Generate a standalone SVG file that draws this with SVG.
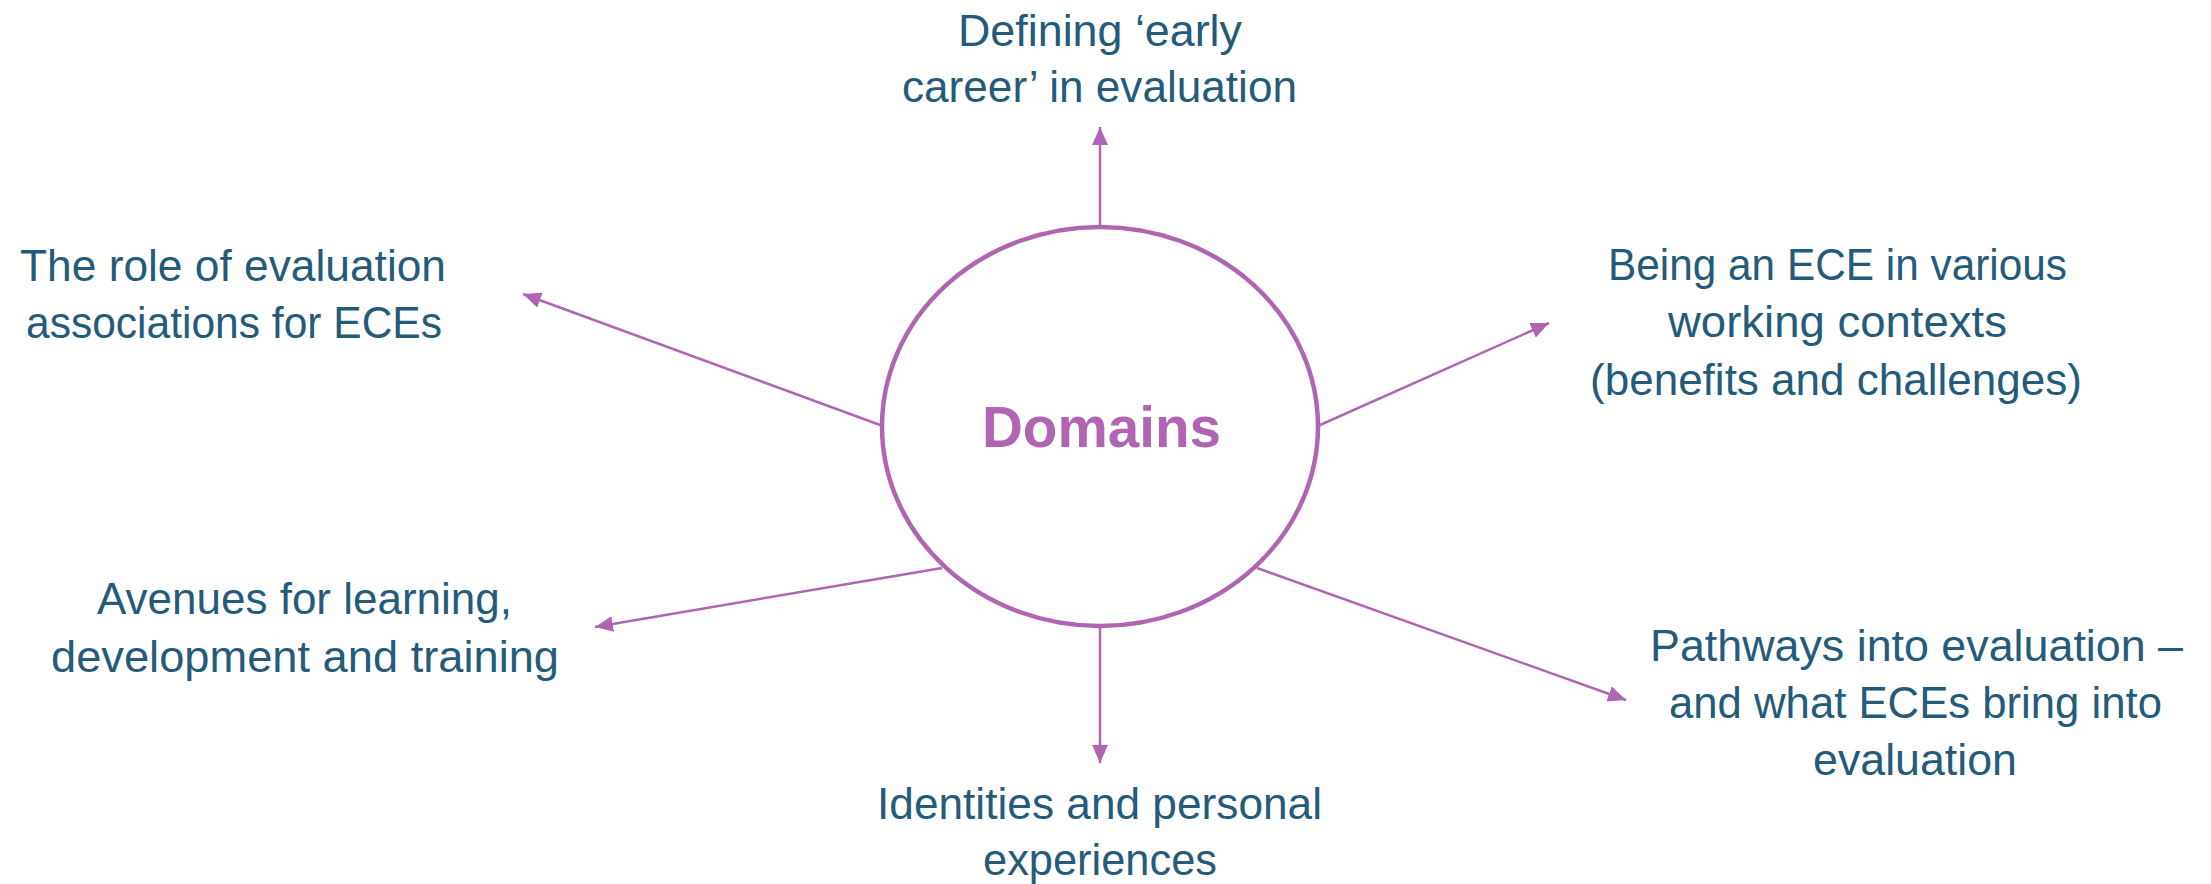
<svg xmlns="http://www.w3.org/2000/svg" width="2211" height="884" viewBox="0 0 2211 884">
  <style>
    .lbl { font-family: "Liberation Sans", Arial, sans-serif; font-size: 44px; fill: #255B7A; text-anchor: middle; }
    .hub { fill: #FFFFFF; stroke: #B065B3; stroke-width: 4.5; }
    .hub-txt { font-family: "Liberation Sans", Arial, sans-serif; font-size: 57px; font-weight: bold; fill: #B065B3; text-anchor: middle; }
    .link { stroke: #B065B3; stroke-width: 2.5; fill: none; marker-end: url(#tip); }
  </style>
  <defs>
    <marker id="tip" markerUnits="userSpaceOnUse" markerWidth="18" markerHeight="16" viewBox="0 0 17 15" refX="17" refY="7.5" orient="auto">
      <path d="M0,0 L17,7.5 L0,15 Z" fill="#B065B3"/>
    </marker>
  </defs>
  <rect width="2211" height="884" fill="#FFFFFF"/>

  <!-- spokes from the central ellipse out to each domain -->
  <g id="connectors">
    <line class="link" x1="1100" y1="225" x2="1100" y2="127"/>
    <line class="link" x1="880" y1="425" x2="523" y2="294"/>
    <line class="link" x1="1320" y1="425" x2="1549" y2="323"/>
    <line class="link" x1="942" y1="568" x2="595" y2="627"/>
    <line class="link" x1="1257" y1="568" x2="1626" y2="700"/>
    <line class="link" x1="1100" y1="628" x2="1100" y2="763"/>
  </g>

  <g id="hub">
    <ellipse class="hub" cx="1100" cy="426.5" rx="218" ry="199.5"/>
    <text class="hub-txt" x="1101.5" y="447" textLength="239" lengthAdjust="spacingAndGlyphs">Domains</text>
  </g>

  <g id="node-defining">
    <text class="lbl" x="1100" y="46" textLength="284" lengthAdjust="spacingAndGlyphs">Defining ‘early</text>
    <text class="lbl" x="1099.5" y="102" textLength="395" lengthAdjust="spacingAndGlyphs">career’ in evaluation</text>
  </g>

  <g id="node-associations">
    <text class="lbl" x="233" y="281" textLength="426" lengthAdjust="spacingAndGlyphs">The role of evaluation</text>
    <text class="lbl" x="234" y="338" textLength="416" lengthAdjust="spacingAndGlyphs">associations for ECEs</text>
  </g>

  <g id="node-contexts">
    <text class="lbl" x="1837.5" y="280" textLength="459" lengthAdjust="spacingAndGlyphs">Being an ECE in various</text>
    <text class="lbl" x="1837.5" y="337" textLength="339" lengthAdjust="spacingAndGlyphs">working contexts</text>
    <text class="lbl" x="1836" y="395" textLength="492" lengthAdjust="spacingAndGlyphs">(benefits and challenges)</text>
  </g>

  <g id="node-avenues">
    <text class="lbl" x="304.5" y="614" textLength="415" lengthAdjust="spacingAndGlyphs">Avenues for learning,</text>
    <text class="lbl" x="305" y="672" textLength="508" lengthAdjust="spacingAndGlyphs">development and training</text>
  </g>

  <g id="node-pathways">
    <text class="lbl" x="1916.5" y="661" textLength="533" lengthAdjust="spacingAndGlyphs">Pathways into evaluation –</text>
    <text class="lbl" x="1915.5" y="718" textLength="493" lengthAdjust="spacingAndGlyphs">and what ECEs bring into</text>
    <text class="lbl" x="1915" y="775" textLength="204" lengthAdjust="spacingAndGlyphs">evaluation</text>
  </g>

  <g id="node-identities">
    <text class="lbl" x="1099.5" y="819" textLength="445" lengthAdjust="spacingAndGlyphs">Identities and personal</text>
    <text class="lbl" x="1100" y="875" textLength="234" lengthAdjust="spacingAndGlyphs">experiences</text>
  </g>
</svg>
